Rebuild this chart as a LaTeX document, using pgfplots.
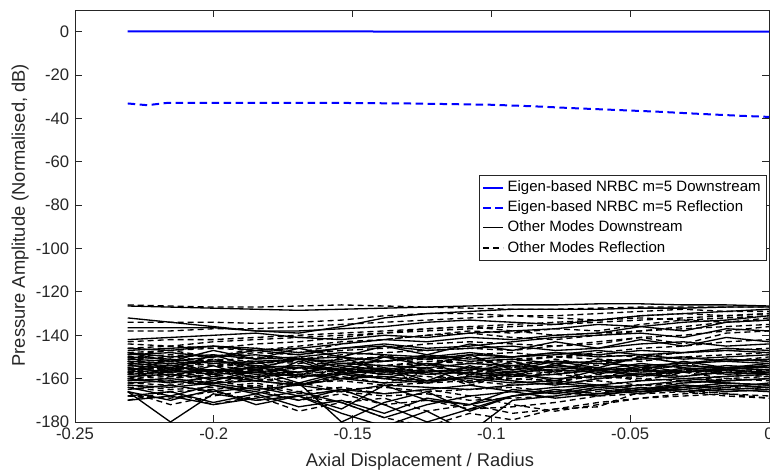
\documentclass[border=0pt]{standalone}
\usepackage{pgfplots}
\pgfplotsset{compat=1.18}
\usepackage{fontspec}
\setmainfont{Liberation Sans}
\definecolor{axgray}{RGB}{38,38,38}
\newcommand{\solidline}[1]{\addplot[black, line width=0.8pt, forget plot] table[row sep=\\, header=false, x expr={-0.231+0.0154*\coordindex}, y index=0] {#1};}
\newcommand{\dashline}[1]{\addplot[black, line width=0.8pt, dash pattern=on 3.6pt off 2.4pt, forget plot] table[row sep=\\, header=false, x expr={-0.231+0.0154*\coordindex}, y index=0] {#1};}
\begin{document}
\begin{tikzpicture}
\begin{axis}[
  name=ax,
  scale only axis, width=416.4pt, height=247.2pt,
  xmin=-0.25, xmax=0, ymin=-180, ymax=10,
  xtick={-0.25,-0.2,-0.15,-0.1,-0.05,0},
  xticklabels={-0.25,-0.2,-0.15,-0.1,-0.05,0},
  ytick={-180,-160,-140,-120,-100,-80,-60,-40,-20,0},
  yticklabels={-180,-160,-140,-120,-100,-80,-60,-40,-20,0},
  tick align=inside, major tick length=4.2pt,
  tick style={axgray, line width=0.5pt},
  axis line style={axgray, line width=0.5pt},
  ticklabel style={font=\fontsize{10}{12}\selectfont, text=axgray},
  xlabel={Axial Displacement / Radius},
  ylabel={Pressure Amplitude (Normalised, dB)},
  label style={font=\fontsize{11}{13}\selectfont, text=axgray},
  xlabel style={at={(axis description cs:0.497,-0.097)}, anchor=center},
  ylabel style={at={(axis description cs:-0.079,0.502)}, anchor=center},
  legend style={at={(rel axis cs:0.997,0.6)}, anchor=north east, font=\fontsize{9}{10.8}\selectfont, draw=axgray, line width=0.5pt, inner sep=1.5pt, cells={anchor=west}},
  legend image code/.code={\draw[#1] (0pt,0pt) -- (12pt,0pt);},
]
\addplot[blue, line width=1.2pt] coordinates {(-0.231,0.2) (-0.15,0.1) (-0.1,0.0) (-0.05,0.0) (0,0.0)};
\addlegendentry{Eigen-based NRBC m=5 Downstream}
\addplot[blue, line width=1.2pt, dash pattern=on 4.5pt off 2.7pt] coordinates {(-0.231,-33.1) (-0.224,-33.9) (-0.2165,-32.8) (-0.19,-32.8) (-0.16,-32.8) (-0.13,-33.1) (-0.1,-33.7) (-0.085,-34.4) (-0.07,-35.3) (-0.055,-36.1) (-0.04,-36.9) (-0.025,-37.9) (-0.01,-38.8) (0,-39.3)};
\addlegendentry{Eigen-based NRBC m=5 Reflection}
\addplot[black, line width=0.8pt] table[row sep=\\, header=false, x expr={-0.231+0.0154*\coordindex}, y index=0] {-126.5\\-127\\-127.5\\-128\\-128.5\\-128\\-127.5\\-127\\-126.5\\-126\\-126\\-125.5\\-125.5\\-126\\-126\\-126.5\\};
\addlegendentry{Other Modes Downstream}
\addplot[black, line width=0.8pt, dash pattern=on 3.6pt off 2.4pt] table[row sep=\\, header=false, x expr={-0.231+0.0154*\coordindex}, y index=0] {-126\\-126.5\\-127\\-127\\-126.5\\-126\\-126.5\\-127\\-127.5\\-128\\-128\\-127.5\\-127\\-127\\-127\\-127\\};
\addlegendentry{Other Modes Reflection}
\solidline{-132\\-134\\-136\\-138\\-139\\-136\\-132\\-130\\-129\\-128\\-128\\-128\\-127.5\\-127.5\\-127\\-127\\}
\solidline{-136.5\\-136.5\\-136.5\\-138\\-138\\-137\\-136\\-134\\-133\\-134\\-135\\-133\\-131\\-130\\-129\\-128\\}
\solidline{-142\\-141\\-140\\-139\\-141\\-142\\-140\\-141\\-139\\-138\\-137\\-135\\-136\\-138\\-134\\-133\\}
\solidline{-146\\-147\\-145\\-146\\-148\\-146\\-145\\-147\\-146\\-145\\-147\\-146\\-144\\-143\\-145\\-144\\}
\solidline{-148\\-150\\-149\\-151\\-150\\-148\\-149\\-150\\-148\\-150\\-149\\-147\\-149\\-148\\-147\\-148\\}
\solidline{-150\\-151\\-153\\-152\\-151\\-153\\-152\\-150\\-152\\-151\\-153\\-152\\-151\\-150\\-152\\-151\\}
\solidline{-152\\-153\\-152\\-154\\-155\\-153\\-154\\-155\\-153\\-154\\-152\\-153\\-154\\-153\\-152\\-153\\}
\solidline{-154\\-155\\-156\\-155\\-154\\-156\\-155\\-157\\-156\\-154\\-155\\-156\\-155\\-154\\-155\\-154\\}
\solidline{-155\\-157\\-156\\-158\\-157\\-155\\-157\\-156\\-158\\-157\\-156\\-157\\-156\\-157\\-155\\-156\\}
\solidline{-157\\-156\\-158\\-157\\-159\\-158\\-156\\-158\\-157\\-159\\-158\\-156\\-158\\-157\\-156\\-157\\}
\solidline{-159\\-158\\-160\\-159\\-158\\-160\\-159\\-161\\-159\\-158\\-160\\-159\\-158\\-160\\-159\\-158\\}
\solidline{-161\\-160\\-162\\-161\\-163\\-160\\-162\\-161\\-160\\-162\\-161\\-163\\-161\\-160\\-161\\-160\\}
\solidline{-163\\-164\\-162\\-165\\-163\\-166\\-163\\-164\\-165\\-163\\-162\\-164\\-163\\-161\\-162\\-163\\}
\solidline{-165\\-163\\-166\\-164\\-168\\-165\\-167\\-165\\-163\\-166\\-164\\-163\\-165\\-164\\-162\\-163\\}
\solidline{-166\\-180\\-167\\-170\\-168\\-174\\-163\\-170\\-172\\-168\\-165\\-167\\-166\\-163\\-165\\-164\\}
\solidline{-168\\-166\\-171\\-167\\-173\\-170\\-176\\-169\\-172\\-165\\-167\\-164\\-166\\-165\\-163\\-164\\}
\solidline{-162\\-161\\-163\\-167\\-162\\-180\\-171\\-166\\-175\\-168\\-166\\-163\\-165\\-162\\-161\\-160\\}
\solidline{-149\\-148\\-150\\-147\\-149\\-146\\-144\\-146\\-145\\-143\\-141\\-140\\-139\\-141\\-137\\-138\\}
\solidline{-147\\-146\\-145\\-147\\-146\\-144\\-142\\-143\\-141\\-142\\-140\\-139\\-136\\-134\\-133\\-131\\}
\solidline{-153\\-154\\-152\\-153\\-151\\-152\\-150\\-151\\-149\\-150\\-148\\-149\\-147\\-148\\-146\\-147\\}
\solidline{-158\\-157\\-156\\-157\\-155\\-156\\-158\\-157\\-155\\-156\\-154\\-155\\-157\\-156\\-154\\-155\\}
\solidline{-160\\-162\\-159\\-161\\-163\\-158\\-160\\-162\\-159\\-161\\-163\\-160\\-158\\-159\\-157\\-158\\}
\solidline{-156\\-154\\-157\\-155\\-157\\-154\\-156\\-153\\-155\\-157\\-154\\-156\\-153\\-155\\-156\\-154\\}
\solidline{-151\\-152\\-150\\-149\\-151\\-150\\-152\\-149\\-151\\-150\\-148\\-150\\-149\\-151\\-150\\-149\\}
\solidline{-170\\-168\\-172\\-169\\-166\\-171\\-178\\-172\\-168\\-166\\-169\\-167\\-164\\-166\\-165\\-166\\}
\solidline{-150\\-156\\-149\\-155\\-151\\-157\\-150\\-154\\-149\\-156\\-152\\-155\\-150\\-153\\-151\\-152\\}
\solidline{-157\\-151\\-158\\-152\\-159\\-150\\-157\\-153\\-158\\-152\\-157\\-151\\-156\\-152\\-155\\-153\\}
\solidline{-153\\-159\\-154\\-160\\-152\\-158\\-155\\-161\\-154\\-159\\-153\\-158\\-154\\-157\\-155\\-156\\}
\solidline{-160\\-155\\-161\\-156\\-162\\-157\\-160\\-155\\-162\\-157\\-161\\-156\\-159\\-155\\-158\\-157\\}
\solidline{-166\\-170\\-165\\-172\\-168\\-176\\-182\\-175\\-185\\-170\\-168\\-165\\-167\\-164\\-166\\-165\\}
\solidline{-164\\-168\\-163\\-166\\-170\\-165\\-172\\-180\\-174\\-168\\-166\\-168\\-165\\-163\\-164\\-162\\}
\solidline{-148\\-152\\-147\\-151\\-146\\-150\\-145\\-149\\-144\\-147\\-143\\-146\\-142\\-145\\-141\\-143\\}
\dashline{-134\\-134\\-134\\-134.5\\-134\\-133\\-131\\-130\\-130\\-131\\-131\\-130\\-129\\-128\\-129\\-129\\}
\dashline{-138\\-138\\-137\\-137\\-136\\-135\\-134\\-133\\-132\\-131\\-132\\-133\\-131\\-130\\-131\\-130\\}
\dashline{-143\\-142\\-142\\-141\\-140\\-139\\-138\\-137\\-136\\-135\\-134\\-133\\-132\\-133\\-132\\-131\\}
\dashline{-146\\-145\\-146\\-144\\-143\\-141\\-139\\-137\\-136\\-138\\-140\\-139\\-138\\-136\\-134\\-133\\}
\dashline{-148\\-147\\-146\\-147\\-145\\-143\\-142\\-140\\-139\\-141\\-142\\-140\\-138\\-137\\-136\\-135\\}
\dashline{-150\\-149\\-150\\-148\\-149\\-147\\-146\\-144\\-143\\-144\\-145\\-143\\-141\\-144\\-139\\-138\\}
\dashline{-152\\-153\\-151\\-152\\-153\\-151\\-150\\-151\\-149\\-148\\-150\\-148\\-146\\-145\\-143\\-142\\}
\dashline{-154\\-155\\-153\\-155\\-154\\-156\\-154\\-153\\-155\\-153\\-152\\-153\\-151\\-150\\-152\\-150\\}
\dashline{-156\\-155\\-157\\-156\\-158\\-156\\-157\\-155\\-156\\-158\\-157\\-155\\-156\\-154\\-155\\-156\\}
\dashline{-158\\-159\\-157\\-159\\-158\\-160\\-158\\-159\\-161\\-159\\-158\\-160\\-159\\-157\\-158\\-159\\}
\dashline{-160\\-161\\-162\\-160\\-162\\-161\\-163\\-162\\-161\\-163\\-162\\-161\\-163\\-162\\-160\\-161\\}
\dashline{-162\\-163\\-161\\-164\\-162\\-165\\-164\\-166\\-165\\-164\\-166\\-165\\-163\\-164\\-162\\-163\\}
\dashline{-164\\-166\\-165\\-163\\-167\\-166\\-168\\-167\\-170\\-169\\-168\\-166\\-165\\-166\\-164\\-165\\}
\dashline{-166\\-172\\-168\\-165\\-170\\-167\\-172\\-170\\-174\\-173\\-171\\-168\\-167\\-166\\-168\\-169\\}
\dashline{-168\\-169\\-166\\-170\\-168\\-171\\-169\\-175\\-172\\-176\\-174\\-173\\-166\\-165\\-167\\-169\\}
\dashline{-163\\-165\\-164\\-162\\-166\\-164\\-167\\-165\\-168\\-172\\-175\\-172\\-169\\-167\\-166\\-165\\}
\dashline{-155\\-156\\-154\\-156\\-155\\-153\\-154\\-152\\-153\\-151\\-150\\-149\\-150\\-148\\-147\\-146\\}
\dashline{-151\\-150\\-152\\-150\\-151\\-149\\-148\\-147\\-146\\-147\\-145\\-144\\-141\\-140\\-138\\-136\\}
\dashline{-157\\-158\\-156\\-157\\-159\\-157\\-156\\-158\\-157\\-155\\-156\\-157\\-158\\-156\\-157\\-156\\}
\dashline{-153\\-152\\-154\\-153\\-152\\-154\\-152\\-151\\-153\\-152\\-150\\-151\\-152\\-150\\-149\\-148\\}
\dashline{-159\\-160\\-158\\-161\\-159\\-158\\-160\\-161\\-159\\-160\\-161\\-159\\-160\\-161\\-159\\-158\\}
\dashline{-144\\-145\\-143\\-142\\-141\\-140\\-139\\-138\\-137\\-136\\-135\\-134\\-133\\-132\\-131\\-130\\}
\dashline{-152\\-157\\-151\\-156\\-150\\-155\\-149\\-154\\-150\\-155\\-151\\-154\\-150\\-153\\-151\\-152\\}
\dashline{-158\\-153\\-159\\-154\\-160\\-155\\-158\\-153\\-159\\-154\\-158\\-155\\-157\\-153\\-156\\-154\\}
\dashline{-155\\-160\\-156\\-161\\-155\\-160\\-156\\-162\\-157\\-161\\-156\\-160\\-155\\-159\\-156\\-158\\}
\dashline{-170\\-166\\-172\\-168\\-175\\-171\\-178\\-182\\-176\\-179\\-174\\-171\\-169\\-168\\-167\\-168\\}
\dashline{-149\\-147\\-150\\-146\\-148\\-144\\-142\\-140\\-138\\-139\\-137\\-138\\-135\\-133\\-134\\-132\\}
\dashline{-161\\-157\\-162\\-158\\-163\\-159\\-162\\-157\\-163\\-158\\-162\\-158\\-161\\-157\\-160\\-159\\}
\end{axis}
\pgfresetboundingbox
\path ([xshift=-45pt,yshift=-30.6pt]ax.south west) rectangle ([xshift=0.6pt,yshift=6pt]ax.north east);
\end{tikzpicture}
\end{document}
